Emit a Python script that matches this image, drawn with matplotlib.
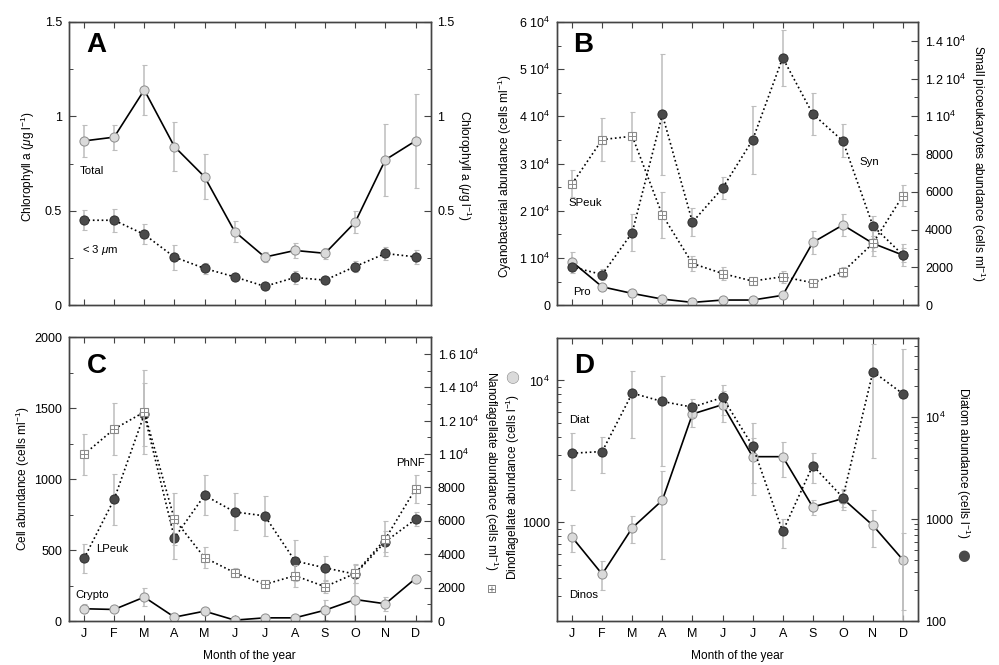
import matplotlib
matplotlib.use('Agg')
import matplotlib.pyplot as plt
import matplotlib.patheffects as pe
from matplotlib.ticker import MultipleLocator, LogLocator, NullFormatter
import numpy as np

plt.rcParams['font.family'] = ['Liberation Sans', 'DejaVu Sans']
plt.rcParams['mathtext.fontset'] = 'custom'
plt.rcParams['mathtext.rm'] = 'Liberation Sans'
plt.rcParams['mathtext.it'] = 'Liberation Sans:italic'
plt.rcParams['mathtext.bf'] = 'Liberation Sans:bold'

months = ['J', 'F', 'M', 'A', 'M', 'J', 'J', 'A', 'S', 'O', 'N', 'D']

# A: chlorophyll a (ug l-1)
chl_total = [0.87, 0.89, 1.14, 0.84, 0.68, 0.39, 0.255, 0.29, 0.275, 0.44, 0.77, 0.87]
chl_total_err = [0.085, 0.066, 0.134, 0.13, 0.12, 0.054, 0.027, 0.042, 0.03, 0.057, 0.19, 0.25]
chl_small = [0.45, 0.45, 0.375, 0.255, 0.195, 0.15, 0.10, 0.147, 0.133, 0.205, 0.274, 0.256]
chl_small_err = [0.053, 0.062, 0.053, 0.066, 0.027, 0.018, 0.01, 0.035, 0.015, 0.028, 0.032, 0.037]

# B: cyanobacteria and small picoeukaryotes (cells ml-1)
pro = [9200, 3900, 2500, 1300, 600, 1100, 1100, 2100, 13300, 17000, 13100, 10600]
pro_err = [2000, 600, 400, 300, 200, 300, 300, 400, 2500, 2300, 1600, 1500]
syn = [8100, 6500, 15400, 40400, 17600, 24800, 35000, 52400, 40500, 34800, 16800, 10600]
syn_err = [1200, 1200, 3900, 12800, 3000, 2400, 7200, 5900, 4400, 3500, 2100, 2300]
speuk = [6430, 8770, 8950, 4780, 2210, 1680, 1280, 1510, 1190, 1770, 3280, 5810]
speuk_err = [710, 1150, 1290, 1230, 420, 320, 150, 320, 150, 270, 650, 530]

# C: crypto, large picoeuks (cells ml-1), phototrophic nanoflagellates
crypto = [87, 82, 169, 28, 70, 7, 23, 23, 77, 152, 122, 300]
crypto_err = [30, 10, 65, 10, 15, 5, 10, 10, 70, 150, 50, 10]
lpeuk = [441, 858, 1456, 586, 886, 769, 741, 424, 375, 331, 560, 717]
lpeuk_err = [100, 180, 220, 150, 140, 130, 140, 145, 85, 65, 75, 50]
phnf = [9980, 11500, 12520, 6100, 3800, 2900, 2200, 2720, 2060, 2860, 4920, 7920]
phnf_err = [1220, 1570, 2540, 1550, 650, 250, 150, 650, 350, 550, 1050, 850]

# D: dinoflagellates and diatoms (cells l-1)
dinos = [782, 429, 911, 1426, 5794, 6749, 2897, 2897, 1278, 1465, 947, 540]
dinos_err = [170, 100, 195, 880, 1100, 1700, 1000, 800, 150, 250, 280, 300]
diat = [4430, 4600, 17200, 14250, 12540, 15600, 5230, 757, 3350, 1630, 28000, 16900]
diat_err = [2500, 1750, 10900, 10900, 2500, 5000, 3500, 240, 1100, 300, 24000, 29700]

# tick labels
chl_ticks = [0, 0.5, 1, 1.5]
chl_labels = ['0', '0.5', '1', '1.5']
cyano_ticks = [0, 1e4, 2e4, 3e4, 4e4, 5e4, 6e4]
cyano_labels = ['0'] + [r'%d 10$^4$' % i for i in range(1, 7)]
speuk_ticks = [0, 2000, 4000, 6000, 8000, 10000, 12000, 14000]
speuk_labels = ['0', '2000', '4000', '6000', '8000', r'1 10$^4$', r'1.2 10$^4$', r'1.4 10$^4$']
cell_ticks = [0, 500, 1000, 1500, 2000]
cell_labels = ['0', '500', '1000', '1500', '2000']
nano_ticks = [0, 2000, 4000, 6000, 8000, 10000, 12000, 14000, 16000]
nano_labels = ['0', '2000', '4000', '6000', '8000', r'1 10$^4$', r'1.2 10$^4$',
               r'1.4 10$^4$', r'1.6 10$^4$']
dino_ticks = [1000, 10000]
dino_labels = ['1000', r'10$^4$']
diat_ticks = [100, 1000, 10000]
diat_labels = ['100', '1000', r'10$^4$']

x = np.arange(len(months))

LIGHT = '#dadada'
LIGHT_EDGE = '#8c8c8c'
DARK = '#4a4a4a'
DARK_EDGE = '#2e2e2e'
ERR = '#bdbdbd'
SPINE = '#444444'
LBL = 8.6

fig = plt.figure(figsize=(9.99, 6.65), dpi=100)


def make_panel(rect, xlabels):
    ax = fig.add_axes(rect)
    ax2 = ax.twinx()
    ax.set_xlim(-0.5, 11.5)
    ax.set_xticks(x)
    if xlabels:
        ax.set_xticklabels(months, fontsize=9)
        ax.set_xlabel('Month of the year', fontsize=LBL, labelpad=7)
    else:
        ax.set_xticklabels([])
    ax.tick_params(axis='x', direction='in', top=True, length=4, width=0.8,
                   color=SPINE, pad=5)
    for a in (ax, ax2):
        a.tick_params(axis='y', which='major', direction='in', length=5, width=0.8,
                      color=SPINE, labelsize=9, pad=5)
        a.tick_params(axis='y', which='minor', direction='in', length=3, width=0.7,
                      color=SPINE)
        for s in a.spines.values():
            s.set_color(SPINE)
            s.set_linewidth(1.0)
    return ax, ax2


def circles(ax, y, err, light, ls):
    ax.errorbar(x, y, yerr=err, fmt='none', ecolor=ERR, elinewidth=1.1,
                capsize=1.8, capthick=0.8, zorder=1)
    ax.plot(x, y, color='black', lw=1.2, ls=ls, marker='o', ms=6.6,
            mfc=LIGHT if light else DARK, mec=LIGHT_EDGE if light else DARK_EDGE,
            mew=0.7, zorder=3)


def squares(ax, y, err):
    ax.errorbar(x, y, yerr=err, fmt='none', ecolor=ERR, elinewidth=1.1,
                capsize=1.8, capthick=0.8, zorder=1)
    ax.plot(x, y, color='black', lw=1.2, ls=':', marker='s', ms=5.2,
            mfc='white', mec='#8a8a8a', mew=0.8, zorder=3)
    ax.plot(x, y, ls='none', marker='+', ms=5.2, mec='#8a8a8a', mew=0.7, zorder=4)


def side_label(ax, xpos, ypos, text, rot):
    ax.text(xpos, ypos, text, transform=ax.transAxes, rotation=rot,
            ha='center', va='center', fontsize=LBL)


# ---------- A ----------
axA, axA2 = make_panel([0.069, 0.541, 0.362, 0.426], False)
circles(axA, chl_total, chl_total_err, True, '-')
circles(axA, chl_small, chl_small_err, False, ':')
axA.set_ylim(0, 1.5)
axA2.set_ylim(0, 1.5)
axA.set_yticks(chl_ticks, chl_labels)
axA2.set_yticks(chl_ticks[1:], chl_labels[1:])
axA.yaxis.set_minor_locator(MultipleLocator(0.25))
axA2.yaxis.set_minor_locator(MultipleLocator(0.25))
side_label(axA, -0.113, 0.49, r'Chlorophyll a ($\mu$g l$^{-1}$)', 90)
side_label(axA, 1.094, 0.495, r'Chlorophyll a ($\mu$g l$^{-1}$)', 270)
axA.text(0.047, 0.92, 'A', transform=axA.transAxes, fontsize=20, fontweight='bold',
         ha='left', va='center')
axA.text(0.030, 0.473, 'Total', transform=axA.transAxes, fontsize=8.2, va='center')
axA.text(0.036, 0.194, r'< 3 $\mu$m', transform=axA.transAxes, fontsize=8.2, va='center')

# ---------- B ----------
axB, axB2 = make_panel([0.5576, 0.541, 0.3614, 0.426], False)
circles(axB, pro, pro_err, True, '-')
circles(axB, syn, syn_err, False, ':')
squares(axB2, speuk, speuk_err)
axB.set_ylim(0, 6e4)
axB2.set_ylim(0, 15000)
axB.set_yticks(cyano_ticks, cyano_labels)
axB2.set_yticks(speuk_ticks, speuk_labels)
axB.yaxis.set_minor_locator(MultipleLocator(5000))
axB2.yaxis.set_minor_locator(MultipleLocator(1000))
side_label(axB, -0.144, 0.455, r'Cyanobacterial abundance (cells ml$^{-1}$)', 90)
side_label(axB, 1.166, 0.50, r'Small picoeukaryotes abundance (cells ml$^{-1}$)', 270)
axB.text(0.044, 0.92, 'B', transform=axB.transAxes, fontsize=20, fontweight='bold',
         ha='left', va='center')
axB.text(0.033, 0.36, 'SPeuk', transform=axB.transAxes, fontsize=8.2, va='center')
axB.text(0.839, 0.505, 'Syn', transform=axB.transAxes, fontsize=8.2, va='center')
axB.text(0.044, 0.046, 'Pro', transform=axB.transAxes, fontsize=8.2, va='center')

# ---------- C ----------
axC, axC2 = make_panel([0.069, 0.066, 0.362, 0.427], True)
circles(axC, crypto, crypto_err, True, '-')
circles(axC, lpeuk, lpeuk_err, False, ':')
squares(axC2, phnf, phnf_err)
axC.set_ylim(0, 2000)
axC2.set_ylim(0, 17000)
axC.set_yticks(cell_ticks, cell_labels)
axC2.set_yticks(nano_ticks, nano_labels)
axC.yaxis.set_minor_locator(MultipleLocator(250))
axC2.yaxis.set_minor_locator(MultipleLocator(1000))
side_label(axC, -0.127, 0.50, r'Cell abundance (cells ml$^{-1}$)', 90)
side_label(axC, 1.168, 0.53, r'Nanoflagellate abundance (cells ml$^{-1}$)', 270)
axC.text(1.168, 0.11, '\u229e', transform=axC.transAxes, ha='center', va='center',
         fontsize=8.5, color='#777777', family='DejaVu Sans')
axC.text(0.05, 0.90, 'C', transform=axC.transAxes, fontsize=20, fontweight='bold',
         ha='left', va='center')
axC.text(0.075, 0.254, 'LPeuk', transform=axC.transAxes, fontsize=8.2, va='center')
axC.text(0.019, 0.092, 'Crypto', transform=axC.transAxes, fontsize=8.2, va='center')
axC.text(0.906, 0.556, 'PhNF', transform=axC.transAxes, fontsize=8.2, va='center')

# ---------- D ----------
axD, axD2 = make_panel([0.5576, 0.066, 0.3614, 0.426], True)
circles(axD, dinos, dinos_err, True, '-')
circles(axD2, diat, diat_err, False, ':')
axD.set_yscale('log')
axD2.set_yscale('log')
axD.set_ylim(200, 20000)
axD2.set_ylim(100, 60000)
axD.set_yticks(dino_ticks, dino_labels)
axD2.set_yticks(diat_ticks, diat_labels)
for a in (axD, axD2):
    a.yaxis.set_minor_locator(LogLocator(base=10, subs=np.arange(2, 10)))
    a.yaxis.set_minor_formatter(NullFormatter())
side_label(axD, -0.122, 0.475, r'Dinoflagellate abundance (cells l$^{-1}$)', 90)
side_label(axD, 1.125, 0.56, r'Diatom abundance (cells l$^{-1}$)', 270)
axD.text(-0.122, 0.862, '\u25cf', transform=axD.transAxes, ha='center', va='center',
         fontsize=10.5, color=LIGHT, family='DejaVu Sans',
         path_effects=[pe.withStroke(linewidth=0.8, foreground=LIGHT_EDGE)])
axD.text(1.125, 0.233, '\u25cf', transform=axD.transAxes, ha='center', va='center',
         fontsize=10.5, color=DARK, family='DejaVu Sans')
axD.text(0.047, 0.90, 'D', transform=axD.transAxes, fontsize=20, fontweight='bold',
         ha='left', va='center')
axD.text(0.033, 0.71, 'Diat', transform=axD.transAxes, fontsize=8.2, va='center')
axD.text(0.033, 0.092, 'Dinos', transform=axD.transAxes, fontsize=8.2, va='center')

fig.savefig('out.png', dpi=100)
